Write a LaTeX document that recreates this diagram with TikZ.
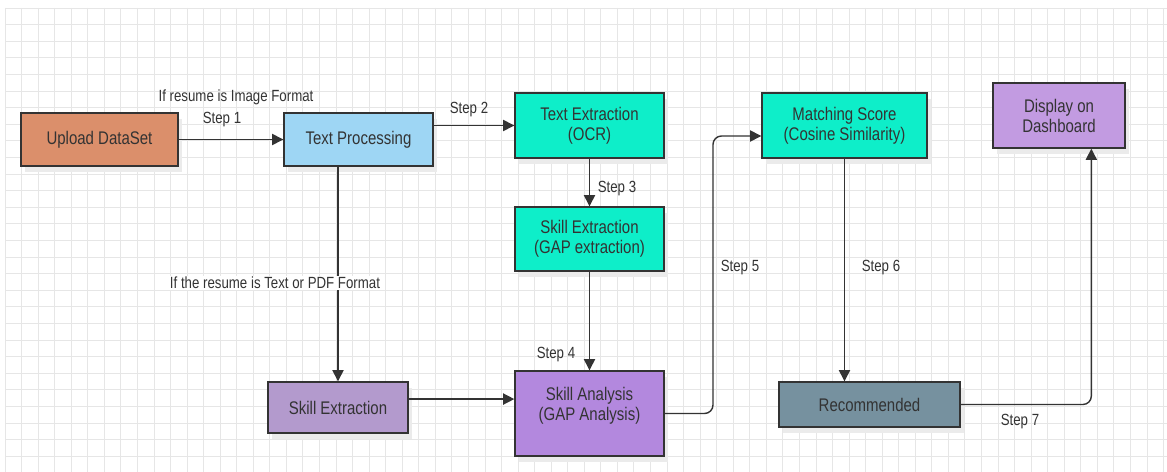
\documentclass[tikz,border=0pt]{standalone}
\usepackage{fontspec}
\setmainfont{Liberation Sans}[FakeStretch=0.82]
\usepackage{xcolor}
\usepackage{tikz}
\usetikzlibrary{arrows.meta,positioning,shadows}

\definecolor{uploadc}{HTML}{DB8F6B}
\definecolor{procc}{HTML}{9ED6F4}
\definecolor{turqc}{HTML}{0EEEC9}
\definecolor{dashc}{HTML}{C29BE1}
\definecolor{skillc}{HTML}{B39ACD}
\definecolor{anac}{HTML}{B388DE}
\definecolor{recc}{HTML}{76919F}
\definecolor{gridc}{HTML}{E6E6E6}
\definecolor{inkc}{HTML}{333333}

\newcommand{\pxu}{0.025cm}
\newcommand{\boxfont}{\fontsize{13}{14.2}\selectfont}
\newcommand{\lblfont}{\fontsize{11.5}{13}\selectfont}

\tikzset{
  box/.style={draw=inkc, line width=1pt, text=inkc, font=\boxfont,
    align=center, inner sep=0pt,
    drop shadow={fill=black!8, opacity=1, shadow xshift=3pt, shadow yshift=-4pt}},
  sz/.style 2 args={minimum width=#1*\pxu, minimum height=#2*\pxu},
  flow/.style={draw=inkc, line width=1pt, -{Triangle[length=8pt,width=8pt]}},
  lbl/.style={font=\lblfont, text=inkc, inner sep=1pt},
}

\begin{document}
\begin{tikzpicture}[x=0.025cm, y=-0.025cm]
  % grid paper
  \fill[white, use as bounding box] (0,0) rectangle (1167,472);
  \foreach \i in {0,...,70} {
    \draw[gridc, line width=0.6pt] (5+\i*16.55,8) -- (5+\i*16.55,472);
  }
  \foreach \j in {0,...,27} {
    \draw[gridc, line width=0.6pt] (5,8+\j*16.6) -- (1167,8+\j*16.6);
  }

  % top row
  \node[box, sz={157}{53}, fill=uploadc] (upload) at (99.5,139.5) {Upload DataSet};
  \node[box, sz={149}{53}, fill=procc] (txtproc) at (358.5,139.5) {Text Processing};
  \node[box, sz={149}{65}, fill=turqc] (ocr) at (589.5,125.5) {Text Extraction\\(OCR)};
  \node[box, sz={149}{64}, fill=turqc] (gapext) at (589.5,239) {Skill Extraction\\(GAP extraction)};
  \node[box, sz={165}{65}, fill=turqc] (match) at (844.5,125.5) {Matching Score\\(Cosine Similarity)};
  \node[box, sz={132}{65}, fill=dashc] (dash) at (1059,115.5) {Display on\\Dashboard};

  % bottom row
  \node[box, sz={140}{51}, fill=skillc] (skillext) at (338,407.5) {Skill Extraction};
  \node[box, sz={149}{85}, fill=anac] (gapana) at (589.5,413.5) {Skill Analysis\\(GAP Analysis)\\\mbox{}};
  \node[box, sz={181}{45}, fill=recc] (recom) at (869.5,404.5) {Recommended};

  % connectors
  \draw[flow] (upload) -- (txtproc);
  \draw[flow] (txtproc.east |- ocr.west) -- (ocr.west);
  \draw[flow] (ocr) -- (gapext);
  \draw[flow] (gapext) -- (gapana);
  \draw[flow] (txtproc.south -| skillext.north) -- (skillext.north);
  \draw[flow] ([yshift=6pt]skillext.east) -- ([yshift=6pt]skillext.east -| gapana.west);
  \coordinate (s5) at (713,136);
  \draw[flow, rounded corners=6pt] (gapana.east) -| (s5) -- (s5 -| match.west);
  \draw[flow] (match.south) -- (match.south |- recom.north);
  \coordinate (s7) at ([xshift=23pt]dash.south);
  \draw[flow, rounded corners=6pt] (recom.east) -| (s7);

  % labels
  \node[lbl] (fmtimg) at (236,97) {If resume is Image Format};
  \node[lbl] (st1) at (222,120) {Step 1};
  \node[lbl] (st2) at (469,110) {Step 2};
  \node[lbl] (st3) at (617,189) {Step 3};
  \node[lbl] (st4) at (556,355) {Step 4};
  \node[lbl] (st5) at (740,268) {Step 5};
  \node[lbl] (st6) at (881,268) {Step 6};
  \node[lbl] (st7) at (1020,422) {Step 7};
  \node[lbl, fill=white] (fmttxt) at (275,283) {If the resume is Text or PDF Format};
\end{tikzpicture}
\end{document}
